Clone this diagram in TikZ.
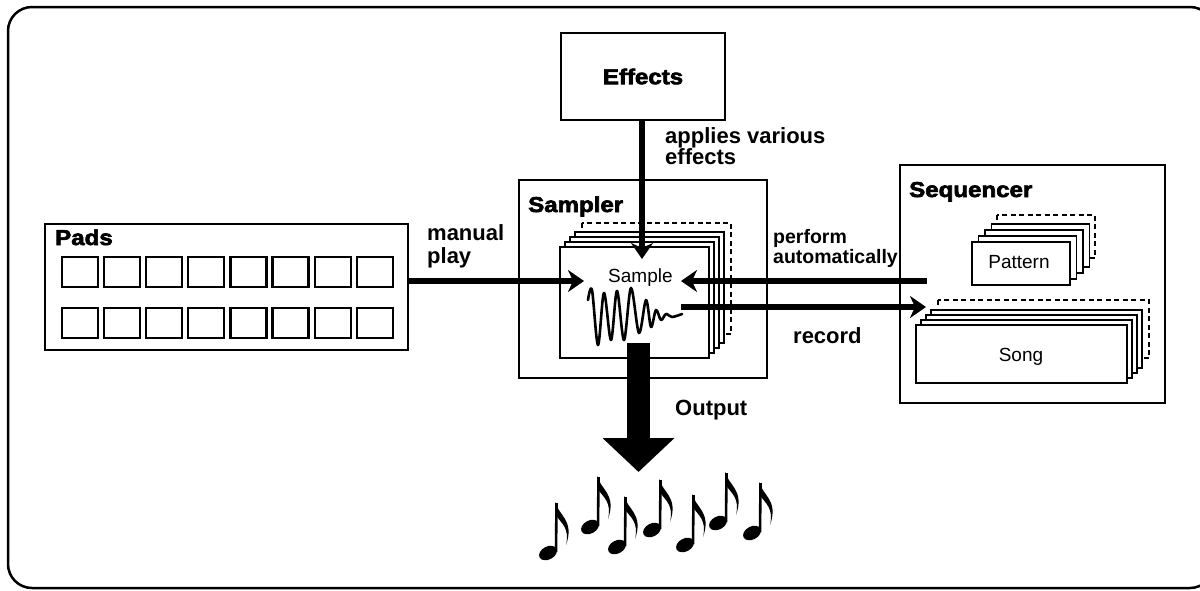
\documentclass[tikz,border=0pt]{standalone}
\usepackage{fontspec}
\setmainfont{Liberation Sans}
\newfontfamily\heavy[FakeStretch=1.12,FakeBold=3]{Liberation Sans Bold}
\usetikzlibrary{arrows.meta,calc}
\tikzset{
  box/.style={draw, line width=2pt, inner sep=0},
  card/.style={draw, line width=1.8pt, fill=white},
  dcard/.style={draw, line width=1.8pt, fill=white, dash pattern=on 5pt off 3.5pt},
  keybox/.style={draw, line width=2.2pt, minimum width=36pt, minimum height=30pt, inner sep=0},
  title/.style={font=\heavy\fontsize{21.5}{23}\selectfont, inner sep=0, anchor=base west},
  lab/.style={font=\bfseries\fontsize{22}{22}\selectfont, inner sep=0, align=left},
  plain/.style={font=\fontsize{19}{21}\selectfont, inner sep=0},
  arr/.style={line width=6pt, -{Stealth[length=16pt,width=22pt,inset=5pt]}},
  bigarr/.style={line width=23pt, -{Triangle[length=34pt,width=70pt]}},
  enote/.pic={
    \fill[rotate=28] (0,0) ellipse [x radius=9.5pt, y radius=6.5pt];
    \draw[line width=2.6pt] (8,-1) -- (8.5,-50);
    \fill (7.2,-51) .. controls (10,-38) and (27,-33) .. (18,-8) .. controls (22,-25) and (13,-30) .. (8.5,-37) -- cycle;
  }
}
\begin{document}
\begin{tikzpicture}[x=1pt,y=-1pt]
\useasboundingbox (0,0) rectangle (1200,590);
\begin{scope}
  \clip (0,0) rectangle (1200,590);
  \draw[line width=2.5pt, rounded corners=24pt] (8,7) rectangle (1214,588);
\end{scope}

% Effects
\node[box, minimum width=164pt, minimum height=87pt, font=\heavy\fontsize{21.5}{23}\selectfont] (effects) at (643,76.5) {Effects};
\node[lab, anchor=north west, font=\bfseries\fontsize{22}{21}\selectfont] (fxlab) at (665,127) {applies various\\effects};

% Pads
\node[box, minimum width=363pt, minimum height=126pt] (pads) at (226.5,287) {};
\node[title] (padst) at (55,245) {Pads};
\foreach \i in {0,...,7} {
  \node[keybox] (ka\i) at (80+42.1*\i,272) {};
  \node[keybox] (kb\i) at (80+42.1*\i,323) {};
}
\node[lab, anchor=north west, font=\bfseries\fontsize{22}{23}\selectfont] (mplab) at (427,224) {manual\\play};

% Sampler
\node[box, minimum width=248pt, minimum height=198pt] (sampler) at (643,279) {};
\node[title] (samplert) at (528,212) {Sampler};
\draw[dcard] (560+22,247-24) rectangle (709+22,358-24);
\foreach \k in {3,2,1} \draw[card] (560+5*\k,247-5*\k) rectangle (709+5*\k,358-5*\k);
\node[card, minimum width=149pt, minimum height=111pt, inner sep=0] (sample) at (634.5,302.5) {};
\node[plain, anchor=base west] (samplelab) at (608,282) {Sample};
\draw[line width=2.6pt, line join=round, line cap=round] plot[smooth, tension=0.55] coordinates {
  (588,300) (592,290) (598,345) (604,293) (611,340) (617,291) (624,340) (631,288)
  (639,333) (646,300) (651,327) (656,310) (661,320) (666,314) (672,317) (682,314)};

% Sequencer
\node[box, minimum width=265pt, minimum height=238pt] (seqbox) at (1032.5,284) {};
\node[title] (seqt) at (909,197) {Sequencer};
\draw[dcard] (972+25,242-27) rectangle (1070+25,285-27);
\foreach \k in {3,2,1} \draw[card] (972+6.5*\k,242-6*\k) rectangle (1070+6.5*\k,285-6*\k);
\node[card, minimum width=98pt, minimum height=43pt, inner sep=0] (pattern) at (1021,263.5) {};
\node[plain, anchor=base] (patternlab) at (1019,268) {Pattern};
\draw[dcard] (916+22,325-25) rectangle (1127+22,383-25);
\foreach \k in {3,2,1} \draw[card] (916+5*\k,325-5*\k) rectangle (1127+5*\k,383-5*\k);
\node[card, minimum width=211pt, minimum height=58pt, inner sep=0] (song) at (1021.5,354) {};
\node[plain, anchor=base] (songlab) at (1021,361) {Song};

% connectors
\coordinate (fxin) at (642,259);
\draw[arr] (effects.south -| fxin) -- (fxin);
\coordinate (mpin) at (584,281);
\draw[arr] (pads.east |- mpin) -- (mpin);
\coordinate (paout) at (927,281);
\coordinate (pain) at (681,281);
\draw[arr] (paout) -- (pain);
\node[lab, anchor=north west, font=\bfseries\fontsize{19.5}{20}\selectfont] (palab) at (773,229) {perform\\automatically};
\coordinate (recout) at (681,307);
\coordinate (recin) at (926,307);
\draw[arr] (recout) -- (recin);
\node[lab, anchor=base west] (reclab) at (793,343) {record};

% output
\coordinate (outtop) at (638.5,343);
\coordinate (outtip) at (638.5,472);
\draw[bigarr] (outtop) -- (outtip);
\node[lab, anchor=base west] (outlab) at (675,415) {Output};

% notes
\pic at (548,553) {enote};
\pic at (590,527) {enote};
\pic at (617,547) {enote};
\pic at (652,530) {enote};
\pic at (685,545) {enote};
\pic at (718,523) {enote};
\pic at (752,533) {enote};
\end{tikzpicture}
\end{document}
